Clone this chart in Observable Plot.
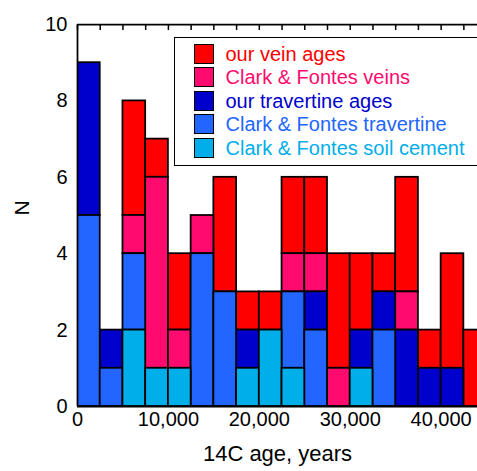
<!DOCTYPE html>
<html><head><meta charset="utf-8">
<script src="https://cdn.jsdelivr.net/npm/d3@7"></script>
<script src="https://cdn.jsdelivr.net/npm/@observablehq/plot@0.6"></script>
<style>
html,body{margin:0;padding:0;background:#fff;overflow:hidden}
#wrap{position:relative;width:477px;height:471px;font-family:"Liberation Sans",Arial,Helvetica,sans-serif}
#legend{position:absolute;left:174px;top:37px;width:330px;height:129px;border:1.5px solid #000;background:#fff;box-sizing:border-box}
.row{position:absolute;left:18.5px;height:20px;display:flex;align-items:center}
.sw{width:20px;height:20px;border:1.75px solid #000;box-sizing:border-box}
.lab{margin-left:12px;font-size:20px;white-space:nowrap;line-height:20px}
</style></head><body><div id="wrap"></div>
<script>
// bin starts (14C age, years), bin width 2500
const binStarts = [0,2500,5000,7500,10000,12500,15000,17500,20000,22500,25000,27500,30000,32500,35000,37500,40000,42500];
const binWidth = 2500;
// legend order (top to bottom)
const seriesNames = ["our vein ages","Clark & Fontes veins","our travertine ages","Clark & Fontes travertine","Clark & Fontes soil cement"];
const seriesColors = ["#ff0000","#ff0a6e","#0000cc","#2266ff","#00aeea"];
// counts per bin
const ourVein      = [0,0,3,1,2,0,3,1,1,2,2,3,2,1,3,1,3,2];
const cfVeins      = [0,0,1,5,1,1,0,0,0,1,1,1,0,0,1,0,0,0];
const ourTrav      = [4,1,0,0,0,0,0,1,0,0,1,0,1,1,2,1,1,0];
const cfTrav       = [5,1,2,0,0,4,3,0,0,2,2,0,0,2,0,0,0,0];
const cfSoil       = [0,0,2,1,1,0,0,1,2,1,0,0,1,0,0,0,0,0];
const xTicks = [0,10000,20000,30000,40000];
const yTicks = [0,2,4,6,8,10];
const xLabel = "14C age, years";
const yLabel = "N";

const seriesValues = [ourVein, cfVeins, ourTrav, cfTrav, cfSoil];
const stackOrder = seriesNames.slice().reverse(); // bottom to top
const data = [];
seriesNames.forEach((name, si) => {
  binStarts.forEach((s, i) => {
    const c = seriesValues[si][i];
    if (c > 0) data.push({start: s, end: s + binWidth, count: c, series: name});
  });
});

const chart = Plot.plot({
  width: 477, height: 471,
  marginLeft: 77, marginRight: 0, marginTop: 24, marginBottom: 65,
  x: {domain: [0, 44000]},
  y: {domain: [0, 10]},
  color: {domain: seriesNames, range: seriesColors},
  style: {fontFamily: '"Liberation Sans", Arial, Helvetica, sans-serif', fontSize: "20px", background: "white", color: "black"},
  marks: [
    Plot.rectY(data, {x1: "start", x2: "end", y: "count", fill: "series", stroke: "black", strokeWidth: 1.75, order: stackOrder, clip: true}),
    Plot.ruleY([0, 10], {strokeWidth: 1.75}),
    Plot.ruleX([0], {strokeWidth: 1.75}),
    Plot.axisX({anchor: "top", ticks: binStarts, tickSize: -5, strokeWidth: 1.5, tickFormat: () => "", label: null}),
    Plot.axisX({anchor: "bottom", ticks: xTicks, tickFormat: d3.format(","), tickSize: 0, tickPadding: 5, fontSize: 20, label: null}),
    Plot.axisY({anchor: "left", ticks: yTicks, tickSize: 0, tickPadding: 10, fontSize: 20, label: null}),
    Plot.text([xLabel], {frameAnchor: "bottom", dy: 54, fontSize: 22, fill: "black"}),
    Plot.text([yLabel], {frameAnchor: "left", dx: -55, rotate: -90, fontSize: 21, fill: "black"})
  ]
});
const wrap = document.getElementById("wrap");
wrap.appendChild(chart);

const leg = document.createElement("div");
leg.id = "legend";
seriesNames.forEach((name, i) => {
  const row = document.createElement("div");
  row.className = "row";
  row.style.top = (5.5 + i * 23.5) + "px";
  const sw = document.createElement("div");
  sw.className = "sw";
  sw.style.background = seriesColors[i];
  const lab = document.createElement("span");
  lab.className = "lab";
  lab.style.color = seriesColors[i];
  lab.textContent = name;
  row.appendChild(sw); row.appendChild(lab);
  leg.appendChild(row);
});
wrap.appendChild(leg);
</script>
</body></html>
